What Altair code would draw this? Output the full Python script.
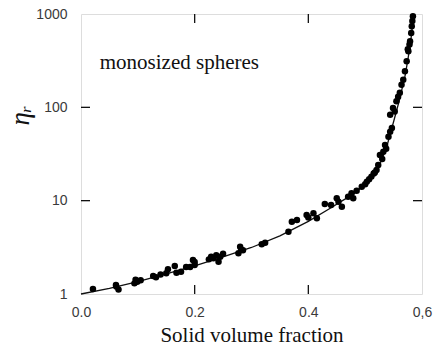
import altair as alt
import pandas as pd

# measured points (solid volume fraction, relative viscosity)
phi_pts = [0.021, 0.062, 0.066, 0.094, 0.099, 0.127, 0.132, 0.150, 0.153, 0.165,
           0.168, 0.176, 0.197, 0.200, 0.192, 0.200, 0.233, 0.245, 0.242, 0.280,
           0.277, 0.324, 0.318, 0.365, 0.371, 0.380, 0.397, 0.409, 0.415, 0.429,
           0.450, 0.453, 0.459, 0.470, 0.476, 0.479, 0.494, 0.503, 0.511, 0.520,
           0.523, 0.526, 0.532, 0.535, 0.541, 0.544, 0.544, 0.549, 0.555, 0.561,
           0.564, 0.567, 0.570, 0.573, 0.576, 0.579, 0.581, 0.582, 0.584, 0.238,
           0.285, 0.500, 0.515, 0.530, 0.552, 0.558, 0.105, 0.140, 0.185, 0.225,
           0.250, 0.282, 0.400, 0.440, 0.485, 0.507, 0.517, 0.537, 0.547, 0.575,
           0.578, 0.583, 0.0615, 0.096, 0.229]
eta_pts = [1.13, 1.20, 1.12, 1.30, 1.35, 1.56, 1.51, 1.67, 1.84, 2.00,
           1.69, 1.73, 2.31, 2.05, 1.95, 2.20, 2.41, 2.51, 2.22, 3.21,
           2.73, 3.55, 3.41, 4.65, 5.96, 6.21, 7.03, 7.33, 6.48, 9.22,
           10.6, 9.75, 8.62, 11.0, 12.0, 10.6, 14.1, 16.0, 18.1, 21.3,
           24.1, 30.9, 33.5, 39.5, 48.5, 54.9, 83.5, 98.6, 116, 143,
           175, 198, 244, 312, 399, 511, 627, 740, 947, 2.60,
           2.95, 15.0, 19.5, 28.0, 90.0, 130, 1.40, 1.62, 1.95, 2.35,
           2.70, 3.00, 6.60, 9.00, 12.8, 17.0, 20.0, 36.0, 60.0, 420,
           470, 840, 1.25, 1.42, 2.50]

# fitted curve
curve_phi = [0.00, 0.05, 0.10, 0.15, 0.20, 0.25, 0.30, 0.35, 0.40, 0.44,
             0.46, 0.48, 0.50, 0.52, 0.53, 0.54, 0.55, 0.56, 0.57, 0.575,
             0.58, 0.585]
curve_eta = [1.00, 1.15, 1.36, 1.64, 2.00, 2.50, 3.15, 4.20, 6.00, 8.40,
             10.0, 11.8, 15.0, 21.0, 28.0, 42.0, 70.0, 118, 215, 320,
             500, 950]

x_ticks = [0.0, 0.2, 0.4, 0.6]
x_tick_labels = ["0.0", "0.2", "0.4", "0,6"]
y_ticks = [1, 10, 100, 1000]
inner_x_ticks = [0.2, 0.4]
inner_y_ticks = [10, 100]

label_note = ["monosized spheres"]
note_phi = [0.033]
note_eta = [255]

W, H = 341, 280
FONT_SANS = "Liberation Sans, Arial, sans-serif"
FONT_SERIF = "'Times New Roman', 'Liberation Serif', 'DejaVu Serif', serif"

pts = pd.DataFrame({"phi": phi_pts, "eta": eta_pts})
crv = pd.DataFrame({"phi": curve_phi, "eta": curve_eta})
xt = pd.DataFrame({"phi": inner_x_ticks})
yt = pd.DataFrame({"eta": inner_y_ticks})
note = pd.DataFrame({"phi": note_phi, "eta": note_eta, "t": label_note})

lab_map = "{" + ",".join(f"'{v}':'{l}'" for v, l in zip(x_ticks, x_tick_labels)) + "}"

xscale = alt.Scale(domain=[0, 0.6], nice=False, zero=False)
yscale = alt.Scale(type="log", domain=[1, 1000], nice=False)

xaxis = alt.Axis(values=x_ticks, ticks=False, domain=False, grid=False,
                 labelExpr=lab_map + "[format(datum.value, '.1f')]",
                 labelFlush=False, labelOverlap=False, labelPadding=11,
                 labelFont=FONT_SANS, labelFontSize=14, labelColor="#3a3a3a",
                 title="Solid volume fraction", titleFont=FONT_SERIF,
                 titleFontSize=21, titleFontWeight="normal", titleColor="#111",
                 titlePadding=5)
yaxis = alt.Axis(values=y_ticks, ticks=False, domain=False, grid=False,
                 format="d", labelPadding=14, labelFont=FONT_SANS,
                 labelFontSize=14, labelColor="#3a3a3a",
                 title="ηᵣ", titleFont=FONT_SERIF, titleFontSize=27,
                 titleFontStyle="italic", titleFontWeight="normal",
                 titleColor="#111", titleAngle=270, titleAlign="center",
                 titleBaseline="alphabetic", titleX=-53, titleY=101)

line = alt.Chart(crv).mark_line(color="#111", strokeWidth=1.3).encode(
    x=alt.X("phi:Q", scale=xscale, axis=xaxis),
    y=alt.Y("eta:Q", scale=yscale, axis=yaxis),
)
points = alt.Chart(pts).mark_circle(color="#000", size=42, opacity=1).encode(
    x=alt.X("phi:Q", scale=xscale),
    y=alt.Y("eta:Q", scale=yscale),
)
xt_bottom = alt.Chart(xt).mark_rule(color="#111", strokeWidth=1.3).encode(
    x=alt.X("phi:Q", scale=xscale), y=alt.value(H), y2=alt.value(H - 9))
xt_top = alt.Chart(xt).mark_rule(color="#111", strokeWidth=1.3).encode(
    x=alt.X("phi:Q", scale=xscale), y=alt.value(0), y2=alt.value(9))
yt_left = alt.Chart(yt).mark_rule(color="#111", strokeWidth=1.3).encode(
    y=alt.Y("eta:Q", scale=yscale), x=alt.value(0), x2=alt.value(9))
yt_right = alt.Chart(yt).mark_rule(color="#111", strokeWidth=1.3).encode(
    y=alt.Y("eta:Q", scale=yscale), x=alt.value(W - 9), x2=alt.value(W))
text = alt.Chart(note).mark_text(align="left", baseline="alphabetic",
                                 font=FONT_SERIF, fontSize=21, color="#111").encode(
    x=alt.X("phi:Q", scale=xscale), y=alt.Y("eta:Q", scale=yscale), text="t:N")

chart = alt.layer(line, points, xt_bottom, xt_top, yt_left, yt_right, text).properties(
    width=W, height=H,
    autosize=alt.AutoSizeParams(type="none"),
    padding={"left": 81, "top": 14, "right": 11, "bottom": 52},
).configure_view(stroke="#111", strokeWidth=1.5).configure(background="white")

chart.save("out.html", embed_options={"renderer": "svg", "actions": False})
